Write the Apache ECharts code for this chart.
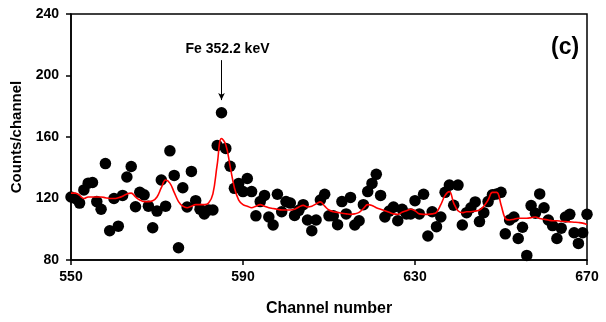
<!DOCTYPE html>
<html>
<head>
<meta charset="utf-8">
<script src="https://cdn.jsdelivr.net/npm/echarts@6/dist/echarts.min.js"></script>
<style>html,body{margin:0;padding:0;background:#fff}#c{width:606px;height:322px}</style>
</head>
<body>
<div id="c"></div>
<script>
// Measured counts (channel, counts)
var channels = [550,551,552,553,554,555,556,557,558,559,560,561,562,563,564,565,566,567,568,569,570,571,572,573,574,575,576,577,578,579,580,581,582,583,584,585,586,587,588,589,590,591,592,593,594,595,596,597,598,599,600,601,602,603,604,605,606,607,608,609,610,611,612,613,614,615,616,617,618,619,620,621,622,623,624,625,626,627,628,629,630,631,632,633,634,635,636,637,638,639,640,641,642,643,644,645,646,647,648,649,650,651,652,653,654,655,656,657,658,659,660,661,662,663,664,665,666,667,668,669,670];
var counts = [121,120,117,125.6,130,130.4,118,113,142.7,99,120,102,122,134,140.8,114.6,124,122.4,115,101,111.8,132,115,151,135,88,127,114.5,137.6,118.6,113,110,112.5,112.5,154.5,175.8,152.6,141,126.6,129.8,124.5,133,124.5,108.7,118,122,108,102.8,122.8,111.4,118,117,109,112.3,116,106,99,106,119,122.8,108.7,108.7,103,118,110,120.7,102.8,105.5,116,124.5,129.8,135.7,122,108,111.8,114.4,105.5,113,110,110,118.6,110,122.8,95.6,111.4,101.7,108,124,128.7,115.6,128.7,102.8,110.8,114,117.8,105,110.8,118,122.4,123,124,97,106,108,94,101.3,83,115.4,110.4,123,114,106,102.4,94,100.7,108,109.7,97.7,90.8,97.7,109.7];
// Fitted curve (one value per channel)
var fit = [123.5,123.5,122,120,121,121,121,121,120.5,120,120,120.5,121.5,123,123.5,121,119,118,118,118.5,121,127,132,130,124,118,115,114,115,116,116,116,117,123,142,159,155,141,127,119,116,115,114,115,116,115,114,113.5,113,112.5,112.5,112.5,113,114.5,115.5,114.5,115,116.5,117.8,115,112.5,111.4,111,110.4,110,109.7,110,111,113.5,116,115.5,114,113,112,111,110,109.7,111,112,113,112,110,109.7,109.7,110,111,116,122,124.5,117,112,110.8,111.4,111.4,111.8,112.5,115,119,124,124,116,107,106,106.5,107.2,107.2,107.2,107.5,108,107,106.5,106,105.5,105.5,105.2,105,104.8,104.6,104.4,104,103];
var xTicks = [550,590,630,670];
var yTicks = [80,120,160,200,240];
var peakLabel = 'Fe 352.2 keV';
var peakArrow = [[585, 210], [585, 184]];

var scatterData = channels.map(function(c,i){return [c, counts[i]];});
var fitData = channels.map(function(c,i){return [c, fit[i]];});

var FONT = 'Liberation Sans, Arial, sans-serif';
var chart = echarts.init(document.getElementById('c'), null, {renderer:'canvas'});
chart.setOption({
  animation:false,
  backgroundColor:'#fff',
  grid:{left:71,right:19,top:14,bottom:55,show:true,borderColor:'#000',borderWidth:1.5,backgroundColor:'transparent'},
  title:{text:'(c)',left:546,top:31,textStyle:{fontFamily:FONT,fontWeight:'bold',fontSize:23,color:'#000'}},
  xAxis:{type:'value',min:xTicks[0],max:xTicks[xTicks.length-1],interval:40,
    name:'Channel number',nameLocation:'middle',nameGap:41,
    nameTextStyle:{fontFamily:FONT,fontWeight:'bold',fontSize:16,color:'#000'},
    axisLine:{lineStyle:{color:'#000',width:1.5}},
    axisTick:{show:true,length:5,lineStyle:{color:'#000',width:1.5}},
    axisLabel:{margin:10,fontFamily:FONT,fontWeight:'bold',fontSize:14,color:'#000'},
    splitLine:{show:false}},
  yAxis:{type:'value',min:yTicks[0],max:yTicks[yTicks.length-1],interval:40,
    name:'Counts/channel',nameLocation:'middle',nameGap:41,nameRotate:90,
    nameTextStyle:{fontFamily:FONT,fontWeight:'bold',fontSize:15,color:'#000'},
    axisLine:{lineStyle:{color:'#000',width:1.5}},
    axisTick:{show:true,length:5,lineStyle:{color:'#000',width:1.5}},
    axisLabel:{margin:12,fontFamily:FONT,fontWeight:'bold',fontSize:14,color:'#000'},
    splitLine:{show:false}},
  series:[
    {type:'scatter',data:scatterData,symbol:'circle',symbolSize:11.5,
     itemStyle:{color:'#000',opacity:1},z:2,
     markLine:{silent:true,symbol:['none','arrow'],symbolSize:[5,7],
       lineStyle:{color:'#000',width:1,type:'solid'},
       label:{show:true,position:'start',formatter:peakLabel,distance:4,padding:[0,0,0,12],
         fontFamily:FONT,fontWeight:'bold',fontSize:14,color:'#000'},
       data:[[{coord:peakArrow[0]},{coord:peakArrow[1]}]]}},
    {type:'line',data:fitData,smooth:0.4,showSymbol:false,symbol:'none',
     lineStyle:{color:'#ff0000',width:1.6},z:3}
  ]
});
</script>
</body>
</html>
